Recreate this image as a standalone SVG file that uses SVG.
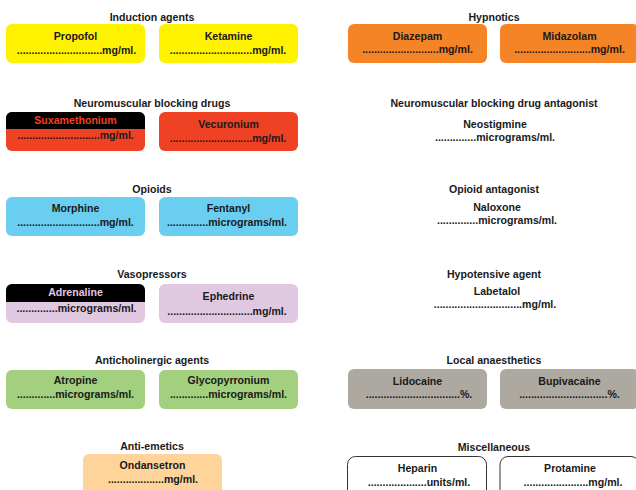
<svg xmlns="http://www.w3.org/2000/svg" width="636" height="490" viewBox="0 0 636 490">
<style>
text{font-family:"Liberation Sans",Arial,sans-serif;font-weight:bold;font-size:10.6px;fill:#1a1a1a;text-anchor:middle}
.yel{fill:#FFF200}.ora{fill:#F58426}.red{fill:#EF4123}.blu{fill:#6ACEF0}.lil{fill:#E1C8E1}.grn{fill:#A2D07E}.pea{fill:#FED49A}.gry{fill:#ADA8A0}
.misc{fill:#fff;stroke:#333;stroke-width:1}
</style>
<rect width="636" height="490" fill="#fff"/>
<g id="titles">
<text x="152" y="20.5">Induction agents</text>
<text x="494" y="20.5">Hypnotics</text>
<text x="152" y="107">Neuromuscular blocking drugs</text>
<text x="494" y="107">Neuromuscular blocking drug antagonist</text>
<text x="152" y="193">Opioids</text>
<text x="494" y="193">Opioid antagonist</text>
<text x="152" y="278">Vasopressors</text>
<text x="494" y="278">Hypotensive agent</text>
<text x="152" y="364">Anticholinergic agents</text>
<text x="494" y="364">Local anaesthetics</text>
<text x="152" y="450">Anti-emetics</text>
<text x="494" y="451">Miscellaneous</text>
</g>
<g id="propofol"><rect class="yel" x="6" y="24" width="139" height="39" rx="6"/><text x="75.5" y="40">Propofol</text><text x="76.5" y="54">.............................mg/ml.</text></g>
<g id="ketamine"><rect class="yel" x="159" y="24" width="139" height="39" rx="6"/><text x="228.5" y="40">Ketamine</text><text x="228" y="54">............................mg/ml.</text></g>
<g id="diazepam"><rect class="ora" x="348" y="24" width="139" height="39" rx="6"/><text x="417.5" y="39.5">Diazepam</text><text x="417.5" y="53">..........................mg/ml.</text></g>
<g id="midazolam"><rect class="ora" x="500" y="24" width="139" height="39" rx="6"/><text x="569.5" y="39.5">Midazolam</text><text x="569.5" y="53">..........................mg/ml.</text></g>
<g id="suxamethonium"><rect class="red" x="6" y="112" width="139" height="39" rx="6"/><path d="M6 129V118a6 6 0 0 1 6-6H139a6 6 0 0 1 6 6V129Z" fill="#000"/><text x="75.5" y="124" style="fill:#EF4123">Suxamethonium</text><text x="75.5" y="138.5">............................mg/ml.</text></g>
<g id="vecuronium"><rect class="red" x="159" y="112" width="139" height="39" rx="6"/><text x="228.5" y="128">Vecuronium</text><text x="228" y="141.5">............................mg/ml.</text></g>
<g id="neostigmine"><text x="495" y="127.5">Neostigmine</text><text x="495" y="141">..............micrograms/ml.</text></g>
<g id="morphine"><rect class="blu" x="6" y="197" width="139" height="39" rx="6"/><text x="75.5" y="212">Morphine</text><text x="75.5" y="226">............................mg/ml.</text></g>
<g id="fentanyl"><rect class="blu" x="159" y="197" width="139" height="39" rx="6"/><text x="228.5" y="212">Fentanyl</text><text x="227" y="226">..............micrograms/ml.</text></g>
<g id="naloxone"><text x="497" y="210.5">Naloxone</text><text x="497" y="224">..............micrograms/ml.</text></g>
<g id="adrenaline"><rect class="lil" x="6" y="284" width="139" height="39" rx="6"/><path d="M6 302V290a6 6 0 0 1 6-6H139a6 6 0 0 1 6 6V302Z" fill="#000"/><text x="75.5" y="296" style="fill:#E1C8E1">Adrenaline</text><text x="76.5" y="311.5">..............micrograms/ml.</text></g>
<g id="ephedrine"><rect class="lil" x="159" y="284" width="139" height="39" rx="6"/><text x="228.5" y="299.5">Ephedrine</text><text x="227" y="315">.............................mg/ml.</text></g>
<g id="labetalol"><text x="497" y="294.5">Labetalol</text><text x="495" y="308">..............................mg/ml.</text></g>
<g id="atropine"><rect class="grn" x="6" y="370" width="139" height="39" rx="6"/><text x="75.5" y="384">Atropine</text><text x="75.5" y="398">.............micrograms/ml.</text></g>
<g id="glycopyrronium"><rect class="grn" x="159" y="370" width="139" height="39" rx="6"/><text x="228.5" y="384">Glycopyrronium</text><text x="228.5" y="398">.............micrograms/ml.</text></g>
<g id="lidocaine"><rect class="gry" x="348" y="369" width="139" height="40" rx="6"/><text x="417.5" y="384.5">Lidocaine</text><text x="419" y="397.5">................................%.</text></g>
<g id="bupivacaine"><rect class="gry" x="500" y="369" width="139" height="40" rx="6"/><text x="569.5" y="384.5">Bupivacaine</text><text x="569.5" y="397.5">..............................%.</text></g>
<g id="ondansetron"><rect class="pea" x="83" y="454" width="139" height="45" rx="6"/><text x="152.5" y="469">Ondansetron</text><text x="153" y="482.5">...................mg/ml.</text></g>
<g id="heparin"><rect class="misc" x="347.5" y="456.5" width="139" height="45" rx="8"/><text x="417.5" y="471.5">Heparin</text><text x="419" y="486">....................units/ml.</text></g>
<g id="protamine"><rect class="misc" x="500" y="456.5" width="139" height="45" rx="8"/><text x="570" y="471.5">Protamine</text><text x="573" y="486">......................mg/ml.</text></g>
<g id="connectors"></g>
</svg>
